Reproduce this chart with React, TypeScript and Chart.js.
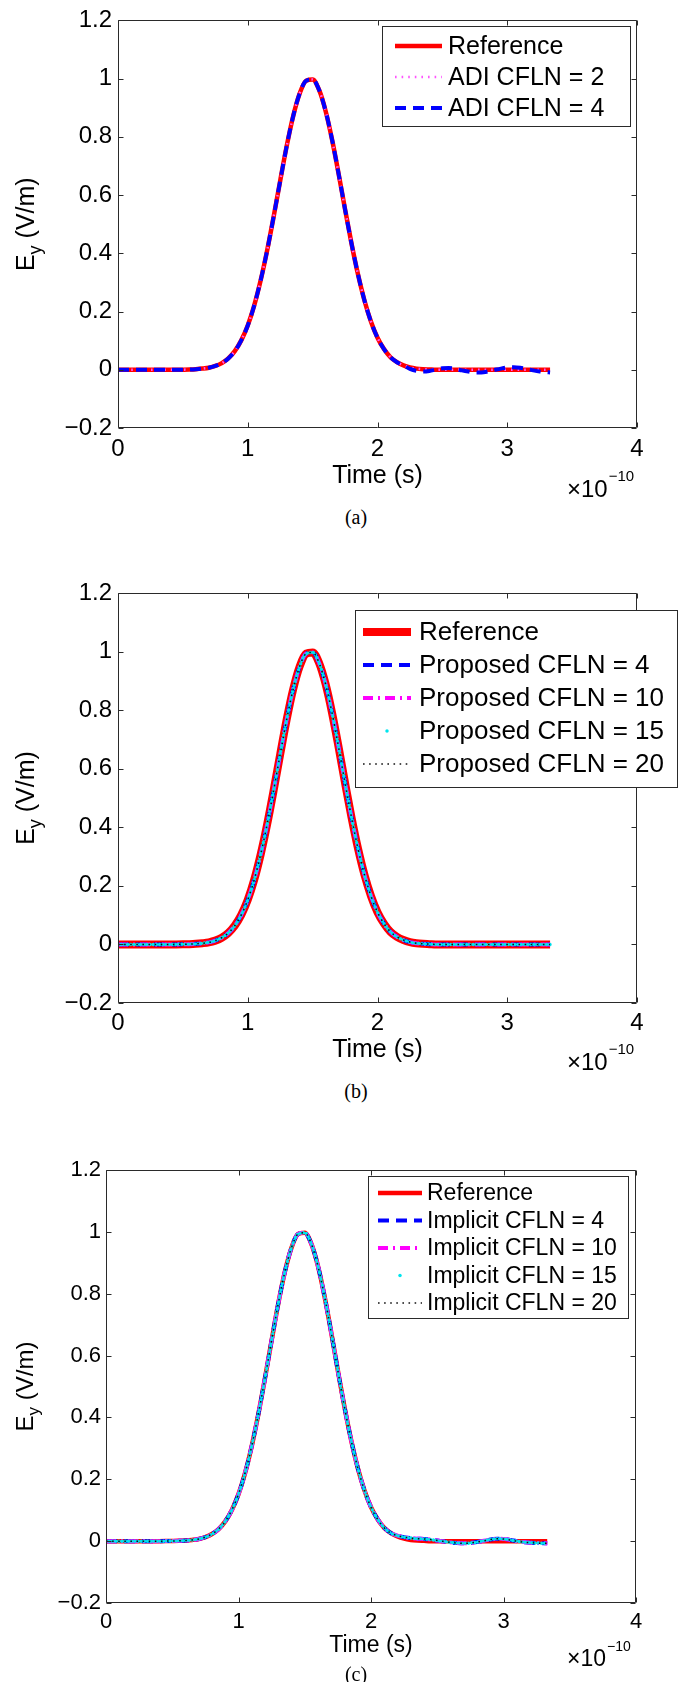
import React, { useEffect, useRef } from "react";
import { Chart, registerables } from "chart.js";

Chart.register(...registerables);

// ---------------- data (time in units of 1e-10 s) ----------------
const timeE10 = [
  0, 0.05, 0.1, 0.15, 0.2, 0.25, 0.3, 0.35, 0.4, 0.45,
  0.5, 0.55, 0.6, 0.65, 0.7, 0.75, 0.8, 0.85, 0.9, 0.95,
  1, 1.05, 1.1, 1.15, 1.2, 1.25, 1.3, 1.35, 1.4, 1.45,
  1.5, 1.55, 1.6, 1.65, 1.7, 1.75, 1.8, 1.85, 1.9, 1.95,
  2, 2.05, 2.1, 2.15, 2.2, 2.25, 2.3, 2.35, 2.4, 2.45,
  2.5, 2.55, 2.6, 2.65, 2.7, 2.75, 2.8, 2.85, 2.9, 2.95,
  3, 3.05, 3.1, 3.15, 3.2, 3.25, 3.3, 3.33,
];

const referencePulse = [
  0, 0, 0, 0, 0, 0, 0, 0, 0, 0.0001,
  0.0004, 0.0009, 0.002, 0.004, 0.007, 0.013, 0.023, 0.039, 0.064, 0.101,
  0.152, 0.221, 0.308, 0.411, 0.527, 0.649, 0.768, 0.871, 0.949, 0.993,
  0.997, 0.961, 0.889, 0.79, 0.674, 0.551, 0.433, 0.327, 0.237, 0.165,
  0.11, 0.071, 0.043, 0.026, 0.015, 0.008, 0.004, 0.002, 0.001, 0,
  0, 0, 0, 0, 0, 0, 0, 0, 0, 0,
  0, 0, 0, 0, 0, 0, 0, 0,
];

const adiCfln4 = [
  0, 0, 0, 0, 0, 0, 0, 0, 0, 0.0001,
  0.0004, 0.0009, 0.002, 0.004, 0.007, 0.013, 0.023, 0.039, 0.064, 0.101,
  0.152, 0.221, 0.308, 0.411, 0.527, 0.649, 0.768, 0.871, 0.949, 0.993,
  0.997, 0.961, 0.889, 0.79, 0.674, 0.551, 0.433, 0.327, 0.237, 0.165,
  0.11, 0.071, 0.043, 0.026, 0.015, 0.003, -0.004, -0.006, -0.004, 0.001,
  0.005, 0.006, 0.003, -0.002, -0.006, -0.009, -0.009, -0.006, -0.001, 0.004,
  0.008, 0.009, 0.007, 0.003, -0.002, -0.006, -0.008, -0.009,
];

const implicitPulse = [
  0, 0, 0, 0, 0, 0, 0, 0, 0, 0.0001,
  0.0004, 0.0009, 0.002, 0.004, 0.007, 0.013, 0.023, 0.039, 0.064, 0.101,
  0.152, 0.221, 0.308, 0.411, 0.527, 0.649, 0.768, 0.871, 0.949, 0.993,
  0.997, 0.961, 0.889, 0.79, 0.674, 0.551, 0.433, 0.327, 0.237, 0.165,
  0.11, 0.071, 0.043, 0.026, 0.018, 0.013, 0.01, 0.008, 0.007, 0.005,
  0.002, -0.001, -0.004, -0.006, -0.007, -0.006, -0.003, 0.001, 0.005, 0.008,
  0.007, 0.004, 0, -0.003, -0.005, -0.006, -0.007, -0.007,
];

const xTickValues = [0, 1, 2, 3, 4];
const yTickValues = [-0.2, 0, 0.2, 0.4, 0.6, 0.8, 1, 1.2];

const labelsA = ["Reference", "ADI CFLN = 2", "ADI CFLN = 4"];
const labelsB = [
  "Reference",
  "Proposed CFLN = 4",
  "Proposed CFLN = 10",
  "Proposed CFLN = 15",
  "Proposed CFLN = 20",
];
const labelsC = [
  "Reference",
  "Implicit CFLN = 4",
  "Implicit CFLN = 10",
  "Implicit CFLN = 15",
  "Implicit CFLN = 20",
];

const xTitle = "Time (s)";
const captions = ["(a)", "(b)", "(c)"];

// ---------------- styles / layout ----------------
type Style = {
  color: string;
  width: number;
  dash: number[];
  cap: CanvasLineCap;
  dot?: boolean;
};

const FAMILY = '"Liberation Sans", Arial, Helvetica, sans-serif';

const redThin: Style = { color: "#ff0000", width: 4.5, dash: [], cap: "butt" };
const redThick: Style = { color: "#ff0000", width: 8, dash: [], cap: "butt" };
const magentaDotted: Style = { color: "#ff55ff", width: 2.5, dash: [1.6, 5], cap: "butt" };
const blueDashed: Style = { color: "#0000ff", width: 4, dash: [11, 7], cap: "butt" };
const magentaDashDot: Style = { color: "#ff00ff", width: 4, dash: [10, 5, 2, 5], cap: "butt" };
const cyanDots: Style = { color: "#00e5ee", width: 3.5, dash: [0, 3.2], cap: "round", dot: true };
const blackDotted: Style = { color: "#111111", width: 1.5, dash: [1.6, 4.5], cap: "butt" };

type Series = { label: string; values: number[]; style: Style };

type PanelCfg = {
  key: string;
  top: number;
  height: number;
  plot: { left: number; right: number; top: number; bottom: number };
  tickFont: number;
  titleFont: number;
  legendFont: number;
  xTickPad: number;
  yTickPad: number;
  xTitlePadBottom: number;
  yTitleX: number;
  yTitleFont: number;
  legend: {
    left: number;
    top: number;
    right: number;
    bottom: number;
    firstY: number;
    step: number;
    x1: number;
    x2: number;
    textX: number;
  };
  expo: { x: number; baseline: number; font: number; supFont: number; supRaise: number };
  caption: string;
  captionY: number;
  series: Series[];
};

const panels: PanelCfg[] = [
  {
    key: "a",
    top: 0,
    height: 505,
    plot: { left: 118, right: 637, top: 17, bottom: 428 },
    tickFont: 24,
    titleFont: 25,
    legendFont: 25,
    xTickPad: 7,
    yTickPad: 6,
    xTitlePadBottom: 14,
    yTitleX: 25,
    yTitleFont: 25,
    legend: { left: 382, top: 26, right: 630, bottom: 126, firstY: 46, step: 31, x1: 395, x2: 442, textX: 448 },
    expo: { x: 567, baseline: 497, font: 24, supFont: 15, supRaise: 16 },
    caption: captions[0],
    captionY: 517,
    series: [
      { label: labelsA[0], values: referencePulse, style: redThin },
      { label: labelsA[1], values: referencePulse, style: magentaDotted },
      { label: labelsA[2], values: adiCfln4, style: blueDashed },
    ],
  },
  {
    key: "b",
    top: 530,
    height: 545,
    plot: { left: 118, right: 637, top: 63, bottom: 473 },
    tickFont: 24,
    titleFont: 25,
    legendFont: 26,
    xTickPad: 6,
    yTickPad: 6,
    xTitlePadBottom: 10,
    yTitleX: 25,
    yTitleFont: 25,
    legend: { left: 355, top: 80, right: 677, bottom: 257, firstY: 102, step: 33, x1: 363, x2: 411, textX: 419 },
    expo: { x: 567, baseline: 540, font: 24, supFont: 15, supRaise: 16 },
    caption: captions[1],
    captionY: 1091,
    series: [
      { label: labelsB[0], values: referencePulse, style: redThick },
      { label: labelsB[1], values: referencePulse, style: blueDashed },
      { label: labelsB[2], values: referencePulse, style: magentaDashDot },
      { label: labelsB[3], values: referencePulse, style: cyanDots },
      { label: labelsB[4], values: referencePulse, style: blackDotted },
    ],
  },
  {
    key: "c",
    top: 1100,
    height: 570,
    plot: { left: 106, right: 636, top: 70, bottom: 503 },
    tickFont: 22,
    titleFont: 23,
    legendFont: 23,
    xTickPad: 6,
    yTickPad: 5,
    xTitlePadBottom: 11,
    yTitleX: 24,
    yTitleFont: 24,
    legend: { left: 368, top: 76, right: 628, bottom: 218, firstY: 93, step: 27.5, x1: 378, x2: 422, textX: 427 },
    expo: { x: 567, baseline: 566, font: 23, supFont: 14, supRaise: 15 },
    caption: captions[2],
    captionY: 1674,
    series: [
      { label: labelsC[0], values: referencePulse, style: redThin },
      { label: labelsC[1], values: implicitPulse, style: blueDashed },
      { label: labelsC[2], values: implicitPulse, style: magentaDashDot },
      { label: labelsC[3], values: implicitPulse, style: cyanDots },
      { label: labelsC[4], values: implicitPulse, style: blackDotted },
    ],
  },
];

const fmtTick = (v: number | string) => {
  const r = Math.round(Number(v) * 10) / 10;
  return r < 0 ? "\u2212" + String(Math.abs(r)) : String(r);
};

function PanelChart({ cfg }: { cfg: PanelCfg }) {
  const ref = useRef<HTMLCanvasElement | null>(null);

  useEffect(() => {
    const canvas = ref.current;
    if (!canvas) return;

    const decor = {
      id: "matlabDecor",
      afterDatasetsDraw(chart: any) {
        const ctx: CanvasRenderingContext2D = chart.ctx;
        const { left, right, top, bottom } = chart.chartArea;
        const L = Math.round(left) + 0.5;
        const R = Math.round(right) - 0.5;
        const T = Math.round(top) + 0.5;
        const B = Math.round(bottom) - 0.5;
        const tl = 5;
        ctx.save();
        ctx.strokeStyle = "#2a2a2a";
        ctx.lineWidth = 1;
        ctx.setLineDash([]);
        ctx.beginPath();
        ctx.rect(L, T, R - L, B - T);
        const xs = chart.scales.x;
        const ys = chart.scales.y;
        xs.ticks.forEach((t: any) => {
          const px = Math.round(xs.getPixelForValue(t.value)) + 0.5;
          ctx.moveTo(px, B);
          ctx.lineTo(px, B - tl);
          ctx.moveTo(px, T);
          ctx.lineTo(px, T + tl);
        });
        ys.ticks.forEach((t: any) => {
          const py = Math.round(ys.getPixelForValue(t.value)) + 0.5;
          ctx.moveTo(L, py);
          ctx.lineTo(L + tl, py);
          ctx.moveTo(R, py);
          ctx.lineTo(R - tl, py);
        });
        ctx.stroke();
        ctx.restore();
      },
      afterDraw(chart: any) {
        const ctx: CanvasRenderingContext2D = chart.ctx;
        const { top, bottom } = chart.chartArea;

        // y-axis title: E_y (V/m)
        ctx.save();
        const f = cfg.yTitleFont;
        const mainFont = `${f}px ${FAMILY}`;
        const subFont = `${Math.round(f * 0.72)}px ${FAMILY}`;
        ctx.font = mainFont;
        const wE = ctx.measureText("E").width;
        const wRest = ctx.measureText(" (V/m)").width;
        ctx.font = subFont;
        const wy = ctx.measureText("y").width;
        const total = wE + wy + wRest;
        ctx.translate(cfg.yTitleX, (top + bottom) / 2);
        ctx.rotate(-Math.PI / 2);
        ctx.fillStyle = "#000";
        ctx.textBaseline = "alphabetic";
        ctx.textAlign = "left";
        const base = f * 0.36;
        let x0 = -total / 2;
        ctx.font = mainFont;
        ctx.fillText("E", x0, base);
        x0 += wE;
        ctx.font = subFont;
        ctx.fillText("y", x0, base + f * 0.28);
        x0 += wy;
        ctx.font = mainFont;
        ctx.fillText(" (V/m)", x0, base);
        ctx.restore();

        // exponent label x10^-10
        ctx.save();
        ctx.fillStyle = "#000";
        ctx.textBaseline = "alphabetic";
        ctx.textAlign = "left";
        ctx.font = `${cfg.expo.font}px ${FAMILY}`;
        const mainTxt = "\u00d710";
        ctx.fillText(mainTxt, cfg.expo.x, cfg.expo.baseline);
        const mw = ctx.measureText(mainTxt).width;
        ctx.font = `${cfg.expo.supFont}px ${FAMILY}`;
        ctx.fillText("\u221210", cfg.expo.x + mw + 1, cfg.expo.baseline - cfg.expo.supRaise);
        ctx.restore();

        // legend
        const lg = cfg.legend;
        ctx.save();
        ctx.fillStyle = "#ffffff";
        ctx.fillRect(lg.left, lg.top, lg.right - lg.left, lg.bottom - lg.top);
        ctx.strokeStyle = "#2a2a2a";
        ctx.lineWidth = 1;
        ctx.strokeRect(lg.left + 0.5, lg.top + 0.5, lg.right - lg.left, lg.bottom - lg.top);
        chart.data.datasets.forEach((ds: any, i: number) => {
          const s: Style = cfg.series[i].style;
          const y = lg.firstY + i * lg.step;
          ctx.save();
          if (s.dot) {
            ctx.fillStyle = s.color;
            ctx.beginPath();
            ctx.arc((lg.x1 + lg.x2) / 2, y, s.width / 2, 0, Math.PI * 2);
            ctx.fill();
          } else {
            ctx.strokeStyle = s.color;
            ctx.lineWidth = s.width;
            ctx.lineCap = s.cap;
            ctx.setLineDash(s.dash);
            ctx.beginPath();
            ctx.moveTo(lg.x1, y);
            ctx.lineTo(lg.x2, y);
            ctx.stroke();
          }
          ctx.restore();
          ctx.fillStyle = "#000";
          ctx.font = `${cfg.legendFont}px ${FAMILY}`;
          ctx.textBaseline = "middle";
          ctx.textAlign = "left";
          ctx.fillText(ds.label, lg.textX, y + 1);
        });
        ctx.restore();
      },
    };

    const n = cfg.series.length;
    const chart = new Chart(canvas, {
      type: "line",
      data: {
        datasets: cfg.series.map((s, i) => ({
          label: s.label,
          data: timeE10.map((t, k) => ({ x: t, y: s.values[k] })),
          borderColor: s.style.color,
          backgroundColor: s.style.color,
          borderWidth: s.style.width,
          borderDash: s.style.dash,
          borderCapStyle: s.style.cap,
          borderJoinStyle: "round",
          pointRadius: 0,
          pointHoverRadius: 0,
          fill: false,
          cubicInterpolationMode: "monotone",
          order: n - i,
        })) as any,
      },
      options: {
        animation: false,
        responsive: false,
        maintainAspectRatio: false,
        devicePixelRatio: 1,
        events: [],
        layout: {
          padding: { left: 0, top: cfg.plot.top, right: 682 - cfg.plot.right, bottom: 0 },
        },
        plugins: {
          legend: { display: false },
          tooltip: { enabled: false },
          title: { display: false },
        },
        scales: {
          x: {
            type: "linear",
            min: 0,
            max: 4,
            afterBuildTicks: (s: any) => {
              s.ticks = xTickValues.map((v) => ({ value: v }));
            },
            afterFit: (s: any) => {
              s.height = cfg.height - cfg.plot.bottom;
            },
            grid: { display: false, drawTicks: false },
            border: { display: false },
            ticks: {
              color: "#000",
              font: { size: cfg.tickFont, family: FAMILY },
              padding: cfg.xTickPad,
              maxRotation: 0,
              autoSkip: false,
              callback: (v: any) => fmtTick(v),
            },
            title: {
              display: true,
              text: xTitle,
              color: "#000",
              font: { size: cfg.titleFont, family: FAMILY },
              padding: { top: 0, bottom: cfg.xTitlePadBottom },
            },
          },
          y: {
            type: "linear",
            min: -0.2,
            max: 1.2,
            afterBuildTicks: (s: any) => {
              s.ticks = yTickValues.map((v) => ({ value: v }));
            },
            afterFit: (s: any) => {
              s.width = cfg.plot.left;
            },
            grid: { display: false, drawTicks: false },
            border: { display: false },
            ticks: {
              color: "#000",
              font: { size: cfg.tickFont, family: FAMILY },
              padding: cfg.yTickPad,
              autoSkip: false,
              callback: (v: any) => fmtTick(v),
            },
          },
        },
      } as any,
      plugins: [decor],
    });

    return () => chart.destroy();
  }, [cfg]);

  return (
    <div style={{ position: "absolute", left: 0, top: cfg.top, width: 682, height: cfg.height }}>
      <canvas ref={ref} width={682} height={cfg.height} style={{ display: "block" }} />
    </div>
  );
}

export default function App() {
  return (
    <div
      style={{
        position: "absolute",
        left: 0,
        top: 0,
        width: 682,
        height: 1682,
        background: "#ffffff",
        overflow: "hidden",
      }}
    >
      {panels.map((p) => (
        <React.Fragment key={p.key}>
          <PanelChart cfg={p} />
          <div
            style={{
              position: "absolute",
              left: 306,
              width: 100,
              top: p.captionY - 12,
              height: 24,
              lineHeight: "24px",
              textAlign: "center",
              fontFamily: '"Liberation Serif", "Times New Roman", serif',
              fontSize: 20,
              color: "#000",
            }}
          >
            {p.caption}
          </div>
        </React.Fragment>
      ))}
    </div>
  );
}
